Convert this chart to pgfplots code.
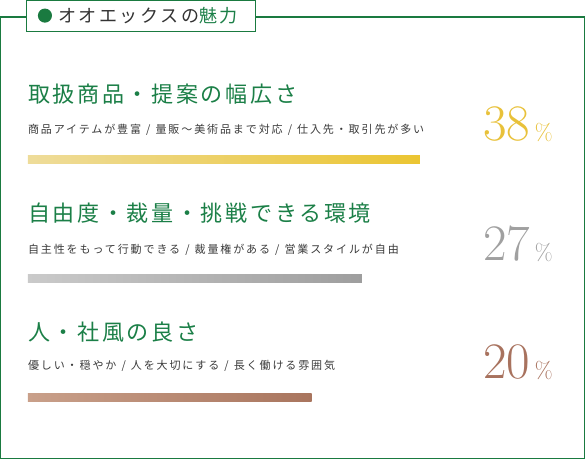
\documentclass[border=0pt]{standalone}
\usepackage{pgfplots}
\pgfplotsset{compat=1.18}
\usepackage{fontspec}
\newfontfamily\jpt{Noto Sans CJK JP}[LetterSpace=14]
\newfontfamily\jph{Noto Sans CJK JP}[LetterSpace=12]
\newfontfamily\jps{Noto Sans CJK JP}[LetterSpace=17]
\definecolor{framegreen}{HTML}{1A7A40}
\definecolor{headgreen}{HTML}{1B7F47}
\definecolor{subtext}{HTML}{3A3A3A}
\definecolor{titletext}{HTML}{333333}
\definecolor{numgold}{HTML}{E8C13A}
\definecolor{numgrey}{HTML}{A0A0A0}
\definecolor{numbrown}{HTML}{A8725E}
\definecolor{bAl}{HTML}{EEDC9A}
\definecolor{bAr}{HTML}{EBC532}
\definecolor{bBl}{HTML}{CACACA}
\definecolor{bBr}{HTML}{9E9E9E}
\definecolor{bCl}{HTML}{C9A08A}
\definecolor{bCr}{HTML}{A9755E}
\newcommand{\sep}{\hspace{5bp}/\hspace{5bp}}
\begin{document}
\begin{tikzpicture}
\begin{axis}[
  scale only axis, width=585bp, height=461bp,
  xmin=-28, xmax=557, ymin=0, ymax=461, y dir=reverse,
  axis lines=none, clip=false,
]
% frame
\draw[framegreen, line width=1.3bp] (axis cs:-27,21) rectangle (axis cs:553,459.5);
\draw[framegreen, line width=1bp, fill=white] (axis cs:-1,4.5) rectangle (axis cs:226,35);
\fill[framegreen] (axis cs:17,19.5) circle[radius=7bp];
\node[anchor=west, inner sep=0pt, text=titletext] at (axis cs:30,20)
  {\jpt\fontsize{18}{18}\selectfont オオエックスの\textcolor{headgreen}{魅力}};

% bars (lengths in px from left edge)
\addplot[xbar, bar width=7.5, draw=none, left color=bAl, right color=bAr] coordinates {(389.5,162.5)};
\addplot[xbar, bar width=7.5, draw=none, left color=bBl, right color=bBr] coordinates {(332,281)};
\addplot[xbar, bar width=7.5, draw=none, left color=bCl, right color=bCr] coordinates {(282,399)};

% headings
\node[anchor=west, inner sep=0pt, text=headgreen] at (axis cs:0,97.5)
  {\jph\fontsize{22}{22}\selectfont 取扱商品・提案の幅広さ};
\node[anchor=west, inner sep=0pt, text=headgreen] at (axis cs:0,216)
  {\jph\fontsize{22}{22}\selectfont 自由度・裁量・挑戦できる環境};
\node[anchor=west, inner sep=0pt, text=headgreen] at (axis cs:0,334)
  {\jph\fontsize{22}{22}\selectfont 人・社風の良さ};

% subtitles
\node[anchor=west, inner sep=0pt, text=subtext] at (axis cs:0,133)
  {\jps\fontsize{11}{11}\selectfont 商品アイテムが豊富\sep 量販〜美術品まで対応\sep 仕入先・取引先が多い};
\node[anchor=west, inner sep=0pt, text=subtext] at (axis cs:0,252)
  {\jps\fontsize{11}{11}\selectfont 自主性をもって行動できる\sep 裁量権がある\sep 営業スタイルが自由};
\node[anchor=west, inner sep=0pt, text=subtext] at (axis cs:0,368)
  {\jps\fontsize{11}{11}\selectfont 優しい・穏やか\sep 人を大切にする\sep 長く働ける雰囲気};

% percentages
\node[anchor=base west, inner sep=0pt, text=numgold] at (axis cs:452.5,143.5)
  {\fontsize{51}{51}\selectfont 38\hspace{4.5bp}{\fontsize{23}{23}\selectfont\%}};
\node[anchor=base west, inner sep=0pt, text=numgrey] at (axis cs:452.5,262.5)
  {\fontsize{51}{51}\selectfont 27\hspace{4.5bp}{\fontsize{23}{23}\selectfont\%}};
\node[anchor=base west, inner sep=0pt, text=numbrown] at (axis cs:452.5,380.5)
  {\fontsize{51}{51}\selectfont 20\hspace{4.5bp}{\fontsize{23}{23}\selectfont\%}};
\end{axis}
\end{tikzpicture}
\end{document}
